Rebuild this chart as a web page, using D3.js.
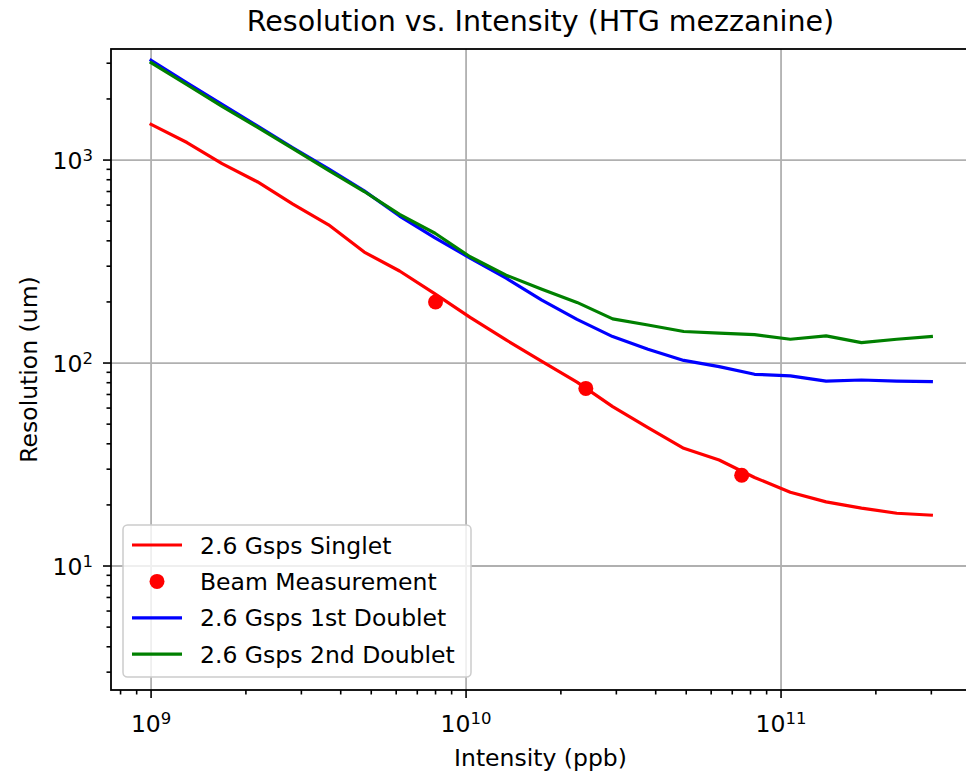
<!DOCTYPE html>
<html>
<head>
<meta charset="utf-8">
<script src="https://cdn.jsdelivr.net/npm/d3@7"></script>
<style>
body { margin: 0; background: #fff; }
text { font-family: "DejaVu Sans", sans-serif; fill: #000; }
</style>
</head>
<body>
<svg id="chart" width="966" height="776"></svg>
<script>
//数据: 强度 (ppb) 与分辨率 (um)
const intensity = [1.0e9, 1.30e9, 1.68e9, 2.18e9, 2.82e9, 3.66e9, 4.75e9, 6.15e9, 7.97e9, 1.03e10, 1.34e10, 1.74e10,
    2.25e10, 2.92e10, 3.78e10, 4.91e10, 6.36e10, 8.24e10, 1.07e11, 1.39e11, 1.80e11, 2.33e11, 3.0e11];
const singlet = [1500, 1220, 960, 780, 607, 480, 352, 284, 219, 168, 130, 102,
    80.5, 61, 48, 38, 33.3, 27.3, 23.1, 20.7, 19.3, 18.2, 17.8];
const doublet1 = [3100, 2400, 1880, 1470, 1150, 905, 705, 530, 414, 329, 262, 204,
    164, 135, 117, 103, 96, 88, 86.5, 81.5, 82.5, 81.5, 81];
const doublet2 = [3020, 2350, 1840, 1450, 1140, 890, 700, 540, 436, 334, 271, 231,
    199, 165, 154, 143, 140.5, 138, 131, 136, 126, 131, 135];

//束流测量点
const beamIntensity = [8.0e9, 2.4e10, 7.5e10];
const beamResolution = [200, 75, 28];

//图例
const seriesNames = ["2.6 Gsps Singlet", "Beam Measurement", "2.6 Gsps 1st Doublet", "2.6 Gsps 2nd Doublet"];
const seriesColors = ["#ff0000", "#ff0000", "#0000ff", "#008000"];

const titleText = "Resolution vs. Intensity (HTG mezzanine)";
const xLabel = "Intensity (ppb)";
const yLabel = "Resolution (um)";

const svg = d3.select('#chart');

//坐标区域
const axLeft = 111, axRight = 970, axTop = 49, axBottom = 690;

const xScale = d3.scaleLog().domain([7.46e8, 3.98e11]).range([axLeft, axRight]);
const yScale = d3.scaleLog().domain([2.45, 3525]).range([axBottom, axTop]);

const line_w = 3.2; //曲线宽度
const font_size = 23.5; //刻度/标签字号
const sup_size = 16.5; //上标字号

const isMajor = v => Math.abs(Math.log10(v) - Math.round(Math.log10(v))) < 1e-9;

const xTicks = xScale.ticks();
const yTicks = yScale.ticks();

//网格线 (只有主刻度)
let grid = svg.append('g');
xTicks.filter(isMajor).forEach(v => {
    grid.append('line').attr('x1', xScale(v)).attr('x2', xScale(v)).attr('y1', axTop).attr('y2', axBottom)
        .attr('stroke', '#b0b0b0').attr('stroke-width', 1.8);
});
yTicks.filter(isMajor).forEach(v => {
    grid.append('line').attr('x1', axLeft).attr('x2', axRight).attr('y1', yScale(v)).attr('y2', yScale(v))
        .attr('stroke', '#b0b0b0').attr('stroke-width', 1.8);
});

//裁剪区域
svg.append('clipPath').attr('id', 'clip').append('rect')
    .attr('x', axLeft).attr('y', axTop).attr('width', axRight - axLeft).attr('height', axBottom - axTop);

let plot = svg.append('g').attr('clip-path', 'url(#clip)');

const lineGen = d3.line().x(d => xScale(d[0])).y(d => yScale(d[1]));

//画一条曲线
function drawSeries(values, color) {
    plot.append('path').datum(intensity.map((x, i) => [x, values[i]]))
        .attr('d', lineGen).attr('fill', 'none').attr('stroke', color)
        .attr('stroke-width', line_w).attr('stroke-linejoin', 'round').attr('stroke-linecap', 'square');
}

drawSeries(singlet, seriesColors[0]);
beamIntensity.forEach((x, i) => {
    plot.append('circle').attr('cx', xScale(x)).attr('cy', yScale(beamResolution[i])).attr('r', 7.5)
        .attr('fill', seriesColors[1]);
});
drawSeries(doublet1, seriesColors[2]);
drawSeries(doublet2, seriesColors[3]);

//坐标轴边框
let axes = svg.append('g');
axes.append('rect').attr('x', axLeft).attr('y', axTop).attr('width', axRight - axLeft).attr('height', axBottom - axTop)
    .attr('fill', 'none').attr('stroke', '#000').attr('stroke-width', 1.8);

//10^n 形式的刻度文字
function powLabel(sel, v) {
    sel.append('tspan').text('10');
    sel.append('tspan').text(Math.round(Math.log10(v))).attr('font-size', sup_size).attr('dy', -8);
}

//x 轴刻度
xTicks.forEach(v => {
    let x = xScale(v);
    let len = isMajor(v) ? 8 : 4.5;
    axes.append('line').attr('x1', x).attr('x2', x).attr('y1', axBottom).attr('y2', axBottom + len)
        .attr('stroke', '#000').attr('stroke-width', 1.6);
    if (isMajor(v)) {
        let t = axes.append('text').attr('x', x).attr('y', 732).attr('text-anchor', 'middle')
            .attr('font-size', font_size);
        powLabel(t, v);
    }
});

//y 轴刻度
yTicks.forEach(v => {
    let y = yScale(v);
    let len = isMajor(v) ? 8 : 4.5;
    axes.append('line').attr('x1', axLeft - len).attr('x2', axLeft).attr('y1', y).attr('y2', y)
        .attr('stroke', '#000').attr('stroke-width', 1.6);
    if (isMajor(v)) {
        let t = axes.append('text').attr('x', 93).attr('y', y + 9).attr('text-anchor', 'end')
            .attr('font-size', font_size);
        powLabel(t, v);
    }
});

//标题和轴标签
svg.append('text').text(titleText).attr('x', (axLeft + axRight) / 2).attr('y', 31)
    .attr('text-anchor', 'middle').attr('font-size', 28.5);
svg.append('text').text(xLabel).attr('x', (axLeft + axRight) / 2).attr('y', 766)
    .attr('text-anchor', 'middle').attr('font-size', font_size);
svg.append('text').text(yLabel).attr('transform', `translate(37,${(axTop + axBottom) / 2}) rotate(-90)`)
    .attr('text-anchor', 'middle').attr('font-size', font_size);

//图例
let legend = svg.append('g').attr('transform', 'translate(123,525)');
legend.append('rect').attr('width', 348).attr('height', 152).attr('rx', 4.5)
    .attr('fill', '#fff').attr('fill-opacity', 0.8).attr('stroke', '#cccccc').attr('stroke-width', 1.5);

seriesNames.forEach((name, i) => {
    let cy = 20 + i * 36.4;
    if (i === 1) {
        legend.append('circle').attr('cx', 34).attr('cy', cy).attr('r', 7.5).attr('fill', seriesColors[i]);
    } else {
        legend.append('line').attr('x1', 9).attr('x2', 59).attr('y1', cy).attr('y2', cy)
            .attr('stroke', seriesColors[i]).attr('stroke-width', line_w);
    }
    legend.append('text').text(name).attr('x', 77).attr('y', cy + 8.5).attr('font-size', font_size);
});
</script>
</body>
</html>
